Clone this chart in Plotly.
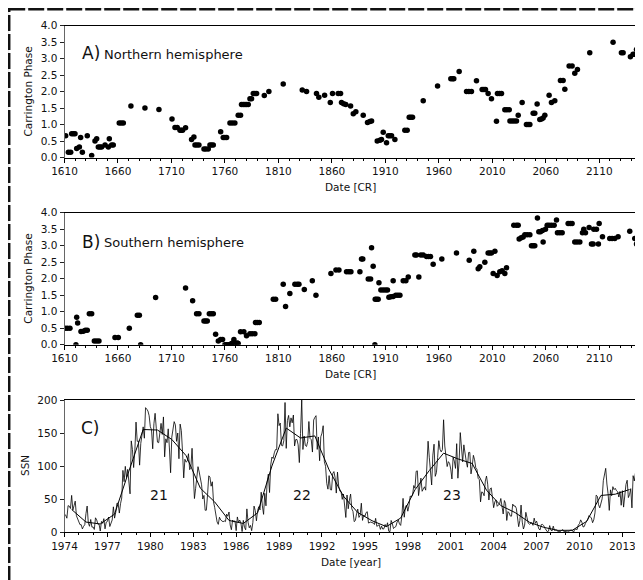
import plotly.graph_objects as go

# ---------------- data ----------------
north_cr = [1611.1, 1613.6, 1615.8, 1616.7, 1618.3, 1619.8, 1621.4, 1623.9, 1625.1, 1626.7,
            1631.3, 1635.4, 1638.5, 1640.1, 1641.6, 1643.2, 1644.7, 1647.9, 1651.0, 1651.9,
            1654.1, 1655.6, 1661.2, 1663.1, 1665.0, 1672.1, 1685.2, 1698.3, 1710.5, 1713.3,
            1715.4, 1718.0, 1719.2, 1720.4, 1723.2, 1728.8, 1731.0, 1732.0, 1733.8, 1735.7,
            1740.4, 1742.2, 1744.4, 1746.0, 1747.5, 1749.1, 1756.0, 1758.4, 1760.0, 1761.6,
            1764.7, 1766.9, 1769.3, 1772.4, 1774.6, 1775.5, 1777.1, 1778.7, 1780.2, 1781.8,
            1783.4, 1784.9, 1786.5, 1788.0, 1789.6, 1796.8, 1801.1, 1814.5, 1832.3, 1836.3,
            1845.6, 1847.8, 1853.2, 1858.5, 1860.6, 1865.9, 1868.1, 1869.0, 1871.0, 1873.0,
            1877.5, 1880.0, 1882.4, 1889.3, 1893.3, 1895.5, 1897.1, 1902.4, 1904.9, 1906.4,
            1908.0, 1911.1, 1912.7, 1914.2, 1915.8, 1918.9, 1928.2, 1930.4, 1932.3, 1933.8,
            1935.4, 1945.4, 1958.8, 1971.2, 1972.8, 1974.0, 1979.0, 1985.9, 1988.1, 1990.5,
            1995.2, 2000.5, 2002.1, 2003.6, 2006.1, 2009.2, 2013.9, 2014.8, 2016.7, 2018.6,
            2021.7, 2023.6, 2025.8, 2026.5, 2028.5, 2030.5, 2032.6, 2034.2, 2037.9, 2041.9,
            2043.5, 2045.1, 2048.2, 2049.7, 2051.9, 2054.4, 2056.0, 2057.5, 2059.1, 2063.1,
            2065.3, 2068.4, 2073.7, 2076.2, 2077.8, 2081.8, 2084.6, 2087.1, 2089.6, 2101.1,
            2122.9, 2130.7, 2132.3, 2139.1, 2141.6, 2143.2, 2144.8]
north_phase = [0.66, 0.16, 0.16, 0.72, 0.72, 0.72, 0.27, 0.32, 0.61, 0.16,
               0.66, 0.06, 0.50, 0.57, 0.32, 0.32, 0.32, 0.38, 0.32, 0.57,
               0.38, 0.38, 1.05, 1.05, 1.05, 1.56, 1.50, 1.46, 1.17, 0.91,
               0.91, 0.83, 0.83, 0.83, 0.90, 0.55, 0.62, 0.38, 0.38, 0.38,
               0.26, 0.26, 0.26, 0.38, 0.38, 0.38, 0.78, 0.61, 0.61, 0.61,
               1.05, 1.05, 1.05, 1.28, 1.28, 1.61, 1.61, 1.61, 1.61, 1.61,
               1.78, 1.78, 1.94, 1.94, 1.94, 1.88, 2.00, 2.23, 2.05, 2.00,
               1.94, 1.83, 1.89, 1.67, 1.94, 1.94, 1.94, 1.67, 1.63, 1.61,
               1.56, 1.33, 1.39, 1.28, 1.06, 1.09, 1.11, 0.50, 0.52, 0.55,
               0.77, 0.45, 0.66, 0.66, 0.66, 0.55, 0.83, 0.83, 1.22, 1.22,
               1.22, 1.72, 2.17, 2.39, 2.39, 2.39, 2.61, 2.00, 2.00, 2.00,
               2.33, 2.06, 2.06, 2.06, 1.94, 1.78, 1.10, 1.94, 1.94, 1.94,
               1.45, 1.45, 1.45, 1.11, 1.11, 1.11, 1.11, 1.28, 1.67, 1.00,
               1.00, 1.00, 1.34, 1.34, 1.62, 1.15, 1.17, 1.20, 1.28, 1.89,
               1.67, 1.72, 2.34, 2.34, 2.07, 2.78, 2.78, 2.56, 2.67, 3.18,
               3.50, 3.18, 3.18, 3.06, 3.13, 3.13, 3.28]

south_cr = [1610.5, 1612.6, 1615.1, 1620.7, 1621.4, 1622.3, 1625.4, 1627.6, 1629.5, 1631.3,
            1633.2, 1635.4, 1637.9, 1640.1, 1642.2, 1657.2, 1660.3, 1670.6, 1678.1, 1680.0,
            1681.2, 1695.2, 1723.2, 1729.8, 1733.5, 1735.7, 1740.4, 1742.0, 1743.5, 1745.4,
            1747.2, 1749.1, 1751.3, 1753.8, 1756.0, 1757.8, 1760.0, 1761.6, 1763.1, 1764.7,
            1766.2, 1767.8, 1769.3, 1771.5, 1772.4, 1768.4, 1774.6, 1777.7, 1780.2, 1783.4,
            1785.5, 1788.0, 1788.6, 1790.2, 1792.1, 1805.2, 1807.4, 1814.5, 1816.7, 1820.7,
            1825.4, 1827.6, 1829.2, 1834.2, 1841.7, 1845.1, 1859.1, 1863.8, 1866.6, 1873.7,
            1875.9, 1877.8, 1886.2, 1887.7, 1888.9, 1894.0, 1896.2, 1897.1, 1898.6, 1900.2,
            1900.5, 1901.8, 1903.3, 1904.0, 1905.8, 1908.0, 1910.2, 1912.0, 1913.3, 1915.2,
            1917.3, 1917.3, 1919.8, 1921.7, 1923.6, 1926.7, 1929.2, 1931.4, 1937.6, 1939.1,
            1941.3, 1943.2, 1945.4, 1948.5, 1950.4, 1952.2, 1954.7, 1962.8, 1976.5, 1988.4,
            1992.7, 1996.8, 1998.3, 2003.0, 2006.1, 2007.7, 2009.2, 2012.4, 2010.8, 2014.5,
            2017.0, 2019.2, 2021.7, 2023.3, 2030.1, 2032.6, 2034.2, 2035.1, 2037.0, 2038.8,
            2040.4, 2042.6, 2045.1, 2046.6, 2048.2, 2049.7, 2052.2, 2053.5, 2055.0, 2056.9,
            2057.5, 2059.7, 2061.3, 2063.1, 2065.3, 2067.8, 2070.0, 2070.9, 2073.1, 2075.3,
            2080.9, 2082.8, 2084.6, 2087.1, 2089.3, 2091.8, 2094.3, 2097.1, 2095.5, 2100.5,
            2102.7, 2104.3, 2104.9, 2107.4, 2109.2, 2109.9, 2113.0, 2119.8, 2122.0, 2124.5,
            2127.6, 2138.5, 2143.2, 2144.8]
south_phase = [0.50, 0.50, 0.50, 0.00, 0.83, 0.66, 0.40, 0.41, 0.44, 0.44,
               0.94, 0.94, 0.11, 0.11, 0.11, 0.22, 0.22, 0.50, 0.89, 0.89,
               0.00, 1.43, 1.72, 1.33, 0.94, 0.94, 0.72, 0.72, 0.72, 0.94,
               0.94, 0.94, 0.32, 0.11, 0.16, 0.16, 0.00, 0.00, 0.00, 0.00,
               0.04, 0.06, 0.05, 0.05, 0.04, 0.16, 0.39, 0.39, 0.27, 0.33,
               0.33, 0.33, 0.67, 0.67, 0.67, 1.38, 1.38, 1.83, 1.16, 1.55,
               1.83, 1.83, 1.83, 1.67, 1.94, 1.50, 2.16, 2.26, 2.26, 2.21,
               2.21, 2.21, 2.21, 2.60, 2.60, 1.99, 1.99, 2.94, 2.38, 0.00,
               1.38, 1.38, 1.38, 1.88, 1.66, 1.66, 1.66, 1.66, 1.44, 1.45,
               1.46, 1.94, 1.50, 1.50, 1.50, 1.94, 1.94, 2.05, 2.72, 2.72,
               2.05, 2.72, 2.72, 2.67, 2.67, 2.67, 2.44, 2.60, 2.78, 2.56,
               2.83, 2.30, 2.36, 2.50, 2.78, 2.78, 2.78, 2.83, 2.16, 2.10,
               2.21, 2.24, 2.16, 2.33, 3.62, 3.62, 3.62, 3.20, 3.24, 3.26,
               3.33, 3.33, 3.33, 3.00, 3.00, 3.00, 3.84, 3.42, 3.42, 3.46,
               3.11, 3.50, 3.62, 3.62, 3.62, 3.62, 3.78, 3.39, 3.39, 3.39,
               3.67, 3.67, 3.67, 3.11, 3.11, 3.11, 3.39, 3.39, 3.50, 3.55,
               3.05, 3.05, 3.50, 3.50, 3.05, 3.67, 3.27, 3.22, 3.22, 3.22,
               3.27, 3.44, 3.22, 3.05]

ssn_start_year = 1974
ssn_monthly = [
    27.6, 26.0, 21.3, 40.3, 39.5, 36.0, 55.8, 33.6, 40.2, 47.1, 25.0, 20.5,       # 1974
    18.9, 11.5, 11.5, 5.1, 9.0, 11.4, 28.2, 39.7, 13.9, 9.1, 19.4, 7.8,           # 1975
    8.1, 4.3, 21.9, 18.8, 12.4, 12.2, 1.9, 16.4, 13.5, 20.6, 5.2, 15.3,           # 1976
    16.4, 23.1, 8.7, 12.9, 18.6, 38.5, 21.4, 30.1, 44.0, 43.8, 29.1, 43.2,        # 1977
    51.9, 93.6, 76.5, 99.7, 82.7, 95.1, 70.4, 58.1, 138.2, 125.1, 97.9, 122.7,    # 1978
    166.6, 137.5, 138.0, 101.5, 134.4, 149.5, 159.4, 142.2, 188.4, 186.2, 183.3, 176.3,  # 1979
    159.6, 155.0, 126.2, 164.1, 179.9, 157.3, 136.3, 135.4, 155.0, 164.7, 147.9, 174.4,  # 1980
    114.0, 141.3, 135.5, 156.4, 127.5, 90.0, 143.8, 158.7, 167.3, 162.4, 137.5, 150.1,   # 1981
    111.2, 163.6, 153.8, 122.0, 82.2, 110.4, 106.1, 107.6, 118.8, 94.7, 98.1, 127.0,     # 1982
    84.3, 51.0, 66.5, 80.7, 99.2, 91.1, 82.2, 71.8, 50.3, 55.8, 33.3, 33.4,       # 1983
    57.0, 85.4, 83.5, 69.7, 76.4, 46.1, 37.4, 25.7, 15.7, 12.0, 22.8, 18.7,       # 1984
    16.5, 15.9, 17.2, 16.2, 27.5, 24.2, 30.7, 11.1, 3.9, 18.6, 16.2, 17.3,        # 1985
    2.5, 23.2, 15.1, 18.5, 13.7, 1.1, 18.1, 7.4, 3.8, 35.4, 15.2, 6.8,            # 1986
    10.4, 2.4, 14.7, 39.6, 33.0, 17.4, 33.0, 38.7, 33.9, 60.6, 39.9, 27.1,        # 1987
    59.0, 40.0, 76.2, 88.0, 60.1, 101.8, 113.8, 111.6, 120.1, 125.1, 125.1, 179.2,       # 1988
    161.3, 165.1, 131.4, 130.6, 138.5, 196.2, 126.9, 168.9, 176.7, 159.4, 173.0, 165.5,  # 1989
    177.3, 130.5, 140.3, 140.3, 132.2, 105.4, 149.4, 200.3, 125.2, 145.5, 131.4, 129.7,  # 1990
    136.9, 167.5, 141.9, 140.0, 121.3, 169.7, 173.7, 176.3, 125.3, 144.1, 108.2, 144.4,  # 1991
    150.0, 161.1, 106.7, 99.8, 73.8, 65.2, 85.7, 64.5, 63.9, 88.7, 91.8, 82.6,    # 1992
    59.3, 91.0, 69.8, 62.2, 61.3, 49.8, 57.9, 42.2, 22.4, 56.4, 35.6, 48.9,       # 1993
    57.8, 35.5, 31.7, 16.1, 17.8, 28.0, 35.1, 22.5, 25.7, 44.0, 18.0, 26.2,       # 1994
    24.2, 29.9, 31.1, 14.0, 14.5, 15.6, 14.5, 14.3, 11.8, 21.1, 9.0, 10.0,        # 1995
    11.5, 4.4, 9.2, 4.8, 5.5, 11.8, 8.2, 14.4, 1.6, 0.9, 17.9, 13.3,              # 1996
    5.7, 7.6, 8.7, 15.5, 18.5, 12.7, 10.4, 24.4, 51.3, 22.8, 39.0, 41.2,          # 1997
    31.9, 40.3, 54.8, 53.4, 56.3, 70.7, 66.6, 92.2, 92.9, 55.5, 74.0, 81.9,       # 1998
    62.0, 66.3, 68.8, 63.7, 106.4, 137.7, 113.5, 93.7, 71.5, 116.7, 133.2, 84.6,  # 1999
    90.1, 112.9, 138.5, 125.5, 121.6, 124.9, 170.1, 130.5, 109.7, 99.4, 106.8, 104.4,    # 2000
    95.6, 80.6, 113.5, 107.7, 96.6, 134.0, 81.8, 106.4, 150.7, 125.5, 106.5, 132.2,      # 2001
    114.1, 107.4, 98.4, 120.7, 120.8, 88.3, 99.6, 116.4, 109.6, 97.5, 95.0, 81.6,        # 2002
    79.5, 46.0, 61.1, 60.0, 55.2, 77.4, 85.0, 72.7, 48.8, 65.6, 67.2, 47.0,       # 2003
    37.2, 46.0, 48.9, 39.3, 41.5, 43.2, 51.1, 40.9, 27.7, 48.0, 43.5, 17.9,       # 2004
    31.3, 29.2, 24.5, 24.4, 42.6, 39.6, 39.9, 36.4, 22.1, 8.5, 18.0, 41.2,        # 2005
    15.4, 5.0, 10.8, 30.2, 22.2, 13.9, 12.2, 12.9, 14.4, 10.5, 21.4, 13.6,        # 2006
    16.9, 10.6, 4.8, 3.7, 11.7, 12.0, 10.0, 6.2, 2.4, 0.9, 1.7, 10.1,             # 2007
    3.3, 2.1, 9.3, 2.9, 3.2, 3.4, 0.8, 0.5, 1.1, 2.9, 4.1, 0.8,                   # 2008
    1.5, 1.4, 0.7, 0.8, 2.9, 2.9, 3.2, 0.0, 4.3, 4.8, 4.1, 10.8,                  # 2009
    13.2, 18.8, 15.4, 8.0, 8.7, 13.6, 16.1, 19.6, 25.2, 23.5, 21.6, 14.5,         # 2010
    19.0, 29.4, 56.2, 54.4, 41.6, 37.0, 43.9, 50.6, 78.0, 88.0, 96.7, 73.0,       # 2011
    58.3, 33.1, 64.2, 55.2, 69.0, 64.5, 66.5, 63.0, 61.4, 53.3, 61.8, 40.8,       # 2012
    62.9, 38.1, 57.9, 72.4, 78.7, 52.5, 57.0, 66.0, 36.9, 85.6, 77.6, 90.3,       # 2013
    82.0,                                                                         # 2014
]
ssn_years = list(range(1974, 2014))
ssn_yearly = [34.5, 15.5, 12.6, 27.5, 92.5, 155.4, 154.6, 140.4, 115.9, 66.6,
              45.9, 17.9, 13.4, 29.4, 100.2, 157.6, 142.6, 145.7, 94.3, 54.6,
              29.9, 17.5, 8.6, 21.5, 64.3, 93.3, 119.6, 111.0, 104.0, 63.7,
              40.4, 29.8, 15.2, 7.5, 2.9, 3.1, 16.5, 55.7, 57.6, 64.7]

cycle_labels = ["21", "22", "23"]
cycle_label_x = [1980.6, 1990.6, 2001.1]
cycle_label_y = [56, 56, 57]

# ---------------- figure ----------------
# the page body has an 8px margin, so the figure is 8px smaller and
# screen coordinates are shifted by 8px
OFF = 8
W, H = 643 - OFF, 580 - OFF
FONT = "DejaVu Sans"


def px(x):
    return (x - OFF) / W


def py(y):
    return 1 - (y - OFF) / H


XL, XR = 64.5, 636.7
panels = {"A": (25.7, 157.5), "B": (212.7, 344.7), "C": (400.0, 532.3)}

monthly_x = [ssn_start_year + i / 12 for i in range(len(ssn_monthly))]
yearly_x = [y + 0.5 for y in ssn_years]

fig = go.Figure()
marker = dict(color="black", size=5.5, line=dict(width=0))
fig.add_trace(go.Scatter(x=north_cr, y=north_phase, mode="markers", marker=marker,
                         xaxis="x", yaxis="y", showlegend=False, cliponaxis=True))
fig.add_trace(go.Scatter(x=south_cr, y=south_phase, mode="markers", marker=marker,
                         xaxis="x2", yaxis="y2", showlegend=False, cliponaxis=True))
fig.add_trace(go.Scatter(x=monthly_x, y=ssn_monthly, mode="lines",
                         line=dict(color="black", width=0.8),
                         xaxis="x3", yaxis="y3", showlegend=False))
fig.add_trace(go.Scatter(x=yearly_x, y=ssn_yearly, mode="lines",
                         line=dict(color="black", width=1.0),
                         xaxis="x3", yaxis="y3", showlegend=False))

tickfont = dict(family=FONT, size=10.5, color="#111")


def xax(rng, tick0, dtick, mdtick, anchor):
    return dict(domain=[px(XL), px(XR)], range=rng, tick0=tick0, dtick=dtick,
                ticks="outside", ticklen=4, tickwidth=1, tickcolor="black",
                showline=True, linecolor="black", linewidth=1, mirror=True,
                showgrid=False, zeroline=False, tickfont=tickfont, anchor=anchor,
                automargin=False,
                minor=dict(dtick=mdtick, tick0=tick0, ticks="outside", ticklen=2,
                           tickwidth=1, tickcolor="black", showgrid=False))


def yax(top, bot, rng, dtick, fmt, anchor):
    return dict(domain=[py(bot), py(top)], range=rng, dtick=dtick, tick0=0,
                ticks="outside", ticklen=4, tickwidth=1, tickcolor="#222",
                showline=True, linecolor="#666", linewidth=1, mirror=True,
                showgrid=False, zeroline=False, tickfont=tickfont, tickformat=fmt,
                anchor=anchor, automargin=False)


fig.update_layout(
    width=W, height=H, autosize=False,
    margin=dict(l=0, r=0, t=0, b=0, pad=0, autoexpand=False),
    paper_bgcolor="#ececec",
    plot_bgcolor="white",
    font=dict(family=FONT, color="#111"),
    showlegend=False,
    xaxis=xax([1610, 2145], 1610, 50, 10, "y"),
    yaxis=yax(*panels["A"], [0, 4], 0.5, ".1f", "x"),
    xaxis2=xax([1610, 2145], 1610, 50, 10, "y2"),
    yaxis2=yax(*panels["B"], [0, 4], 0.5, ".1f", "x2"),
    xaxis3=xax([1974, 2014], 1974, 3, 1, "y3"),
    yaxis3=yax(*panels["C"], [0, 200], 50, "d", "x3"),
)

fig.add_shape(type="rect", xref="paper", yref="paper",
              x0=px(9.2), y0=py(9.2), x1=1.05, y1=-0.05,
              line=dict(color="#111", width=2.5, dash="16px,3px"),
              fillcolor="white", layer="below")

ann = []


def txt(x, y, s, size, xanchor="center", angle=0):
    ann.append(dict(x=px(x), y=py(y), xref="paper", yref="paper", text=s,
                    showarrow=False, xanchor=xanchor, yanchor="middle",
                    textangle=angle, font=dict(family=FONT, size=size, color="#111")))


txt(28, (25.7 + 157.5) / 2, "Carrington Phase", 10.5, angle=-90)
txt(28, (212.7 + 344.7) / 2, "Carrington Phase", 10.5, angle=-90)
txt(25, 466, "SSN", 10.5, angle=-90)
txt((XL + XR) / 2, 186.5, "Date [CR]", 10.5)
txt((XL + XR) / 2, 373.7, "Date [CR]", 10.5)
txt((XL + XR) / 2, 561.7, "Date [year]", 10.5)
txt(80, 53, "A)", 17, xanchor="left")
txt(102, 54, "Northern hemisphere", 13, xanchor="left")
txt(80, 241.5, "B)", 17, xanchor="left")
txt(102, 242.5, "Southern hemisphere", 13, xanchor="left")
txt(79, 427.5, "C)", 17, xanchor="left")

for s, cx, cy in zip(cycle_labels, cycle_label_x, cycle_label_y):
    ann.append(dict(x=cx, y=cy, xref="x3", yref="y3", text=s, showarrow=False,
                    font=dict(family=FONT, size=14, color="#111")))

fig.update_layout(annotations=ann)
fig.write_html("out.html")
